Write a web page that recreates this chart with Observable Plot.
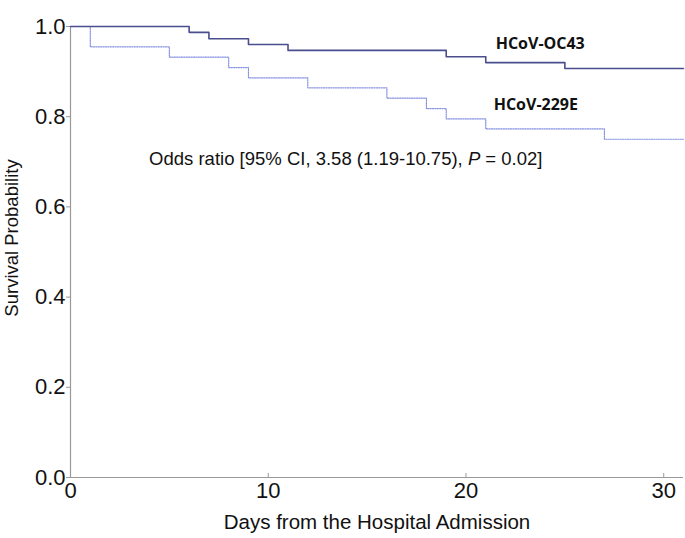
<!DOCTYPE html>
<html>
<head>
<meta charset="utf-8">
<script src="https://cdn.jsdelivr.net/npm/d3@7"></script>
<script src="https://cdn.jsdelivr.net/npm/@observablehq/plot@0.6"></script>
<style>
  body { margin: 0; background: #fff; }
  #chart { position: relative; width: 685px; height: 538px; }
</style>
</head>
<body>
<div id="chart"></div>
<script>
// Kaplan-Meier step data
const oc43Days = [0, 6, 7, 9, 11, 19, 21, 25, 31];
const oc43Surv = [1.0, 0.987, 0.973, 0.96, 0.947, 0.933, 0.92, 0.907, 0.907];
const e229Days = [0, 1, 5, 8, 9, 12, 16, 18, 19, 21, 27, 31];
const e229Surv = [1.0, 0.955, 0.932, 0.909, 0.886, 0.864, 0.841, 0.818, 0.795, 0.773, 0.75, 0.75];
const xTicks = [0, 10, 20, 30];
const yTicks = [0, 0.2, 0.4, 0.6, 0.8, 1.0];
const seriesLabels = ["HCoV-OC43", "HCoV-229E"];
const labelAnchor = [{day: 21.5, surv: 0.961}, {day: 21.4, surv: 0.826}];
const oddsText = {day: 4, surv: 0.692};

const oc43 = oc43Days.map((d, i) => ({day: d, surv: oc43Surv[i]}));
const e229 = e229Days.map((d, i) => ({day: d, surv: e229Surv[i]}));
const labels = seriesLabels.map((t, i) => ({text: t, ...labelAnchor[i]}));

const fontFam = "Liberation Sans, Arial, sans-serif";

const plot = Plot.plot({
  width: 685,
  height: 538,
  marginLeft: 70,
  marginRight: 2,
  marginTop: 26,
  marginBottom: 61,
  style: {fontFamily: fontFam, background: "#fff", color: "#000", overflow: "visible"},
  x: {domain: [0, 31], ticks: xTicks},
  y: {domain: [0, 1], ticks: yTicks},
  marks: [
    Plot.ruleX([0], {stroke: "#999", strokeWidth: 1.2}),
    Plot.ruleY([0], {stroke: "#999", strokeWidth: 1.2}),
    Plot.axisX({ticks: xTicks, tickSize: -4, stroke: "#999", tickPadding: 9, fontSize: 22, fill: "#111", tickFormat: d => String(d), label: null}),
    Plot.axisY({ticks: yTicks, tickSize: 4, stroke: "#999", tickPadding: 1, fontSize: 22, fill: "#111", tickFormat: d => d.toFixed(1), label: null}),
    Plot.text(["Days from the Hospital Admission"], {frameAnchor: "bottom", dy: 51, fontSize: 20.5, fill: "#111"}),
    Plot.text(["Survival Probability"], {frameAnchor: "left", textAnchor: "middle", dx: -58, dy: -14, rotate: -90, fontSize: 18.5, fill: "#111"}),
    Plot.line(e229, {x: "day", y: "surv", curve: "step-after", stroke: "#8592e0", strokeWidth: 1.2, strokeDasharray: "1.2,1.2"}),
    Plot.line(oc43, {x: "day", y: "surv", curve: "step-after", stroke: "#4a4e8e", strokeWidth: 1.6}),
    Plot.text(labels, {x: "day", y: "surv", text: "text", textAnchor: "start", fontSize: 16, fontWeight: "bold", fill: "#111", fontFamily: "Open Sans, sans-serif"})
  ]
});

// Odds ratio annotation with italic P, placed via plot scales
const xs = plot.scale("x"), ys = plot.scale("y");
const svg = d3.select(plot);
const t = svg.append("text")
  .attr("x", xs.apply(oddsText.day))
  .attr("y", ys.apply(oddsText.surv))
  .attr("text-anchor", "start")
  .attr("font-family", fontFam)
  .attr("font-size", 18.5)
  .attr("fill", "#111");
t.append("tspan").text("Odds ratio [95% CI, 3.58 (1.19-10.75), ");
t.append("tspan").attr("font-style", "italic").text("P");
t.append("tspan").text(" = 0.02]");

document.getElementById("chart").appendChild(plot);
</script>
</body>
</html>
